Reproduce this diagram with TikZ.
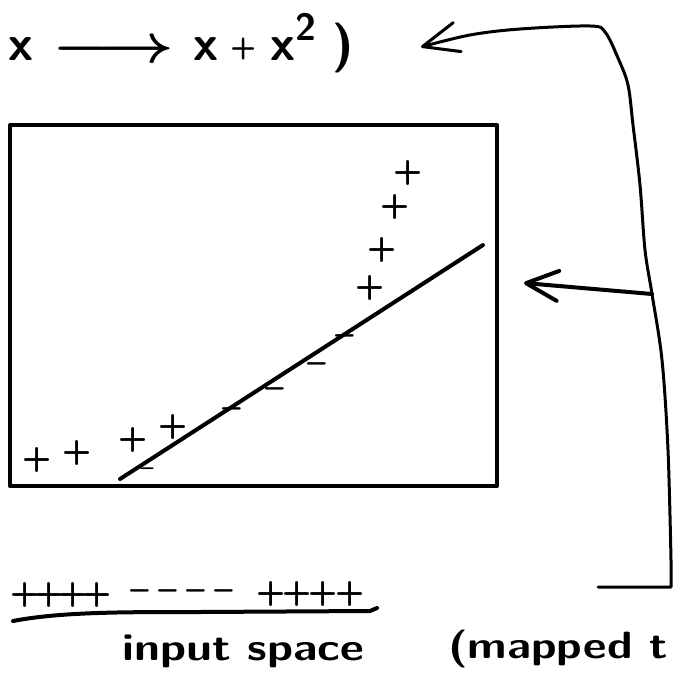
\documentclass[tikz,border=0pt]{standalone}
\usetikzlibrary{arrows.meta}
\tikzset{
  pen/.style={line width=3pt, line cap=round, line join=round},
  thickpen/.style={line width=4pt, line cap=round, line join=round},
  sign/.style={inner sep=0pt, font=\fontsize{34}{34}\selectfont\sffamily\bfseries},
  handtext/.style={inner sep=0pt, anchor=base west, font=\fontsize{38}{40}\selectfont\sffamily\bfseries},
  bigtip/.style={-{Straight Barb[length=36pt,width=30pt,round]}},
  midtip/.style={-{Straight Barb[length=32pt,width=30pt,round]}}
}
\begin{document}
\begin{tikzpicture}[x=1pt,y=-1pt]
\useasboundingbox (0,0) rectangle (673,685);
\fill[white] (0,0) rectangle (673,685);
\clip (0,0) rectangle (673,685);

% formula
\node[inner sep=0pt, anchor=base west, font=\fontsize{50}{55}\selectfont\sffamily\bfseries] (formula) at (8,60)
  {x\hspace{19pt}{\fontsize{10}{12}\selectfont\boldmath\raisebox{-2pt}{\scalebox{6.6}[5.5]{$\longrightarrow$}}}\hspace{19pt}x\hspace{12pt}\raisebox{4pt}{\fontsize{30}{30}\selectfont +}\hspace{14pt}x\raisebox{20pt}{\fontsize{38}{38}\selectfont 2}\hspace{16pt})};

% box (feature space)
\node[draw, thickpen, minimum width=487pt, minimum height=361pt, inner sep=0pt] (box) at (253.5,305.5) {};

% separating line
\coordinate (dA) at (120,479);
\coordinate (dB) at (483,245);
\draw[thickpen] (dA) -- (dB);

% plus signs in the box
\foreach \x/\y [count=\i] in {37/460,77/453,133/440,173/427,370/288,382/250,395/207,408/173}
  \node[sign] (bp\i) at (\x,\y) {+};
% minus signs in the box
\node[sign, font=\fontsize{24}{24}\selectfont\sffamily\bfseries] (bm1) at (147,472) {--};
\foreach \x/\y [count=\i from 2] in {232/413,275/393,317/368,345/340}
  \node[sign] (bm\i) at (\x,\y) {--};

% input line
\foreach \x [count=\i] in {25,49,73,97}
  \node[sign] (lp\i) at (\x,595) {+};
\foreach \x [count=\i] in {140,168,196,224}
  \node[sign] (lm\i) at (\x,595) {--};
\foreach \x [count=\i] in {271,297,323,350}
  \node[sign] (lq\i) at (\x,594) {+};
\coordinate (uA) at (13,621);
\coordinate (uB) at (377,608);
\draw[thickpen] (uA) .. controls (60,612) and (120,612) .. (200,612) -- (370,611) -- (uB);

\node[handtext] (input) at (122,660) {\scalebox{1.22}[1]{input space}};
\node[handtext] (mapped) at (448,658) {\scalebox{1.2}[1]{(mapped t}};

% connectors
\coordinate (brS) at (598,587);
\coordinate (brC) at (671,587);
\coordinate (topTip) at (421,47);
\coordinate (midS) at (652,294);
\coordinate (midTip) at (524,283);

\draw[pen, bigtip] (brS) -- (brC) -- plot[smooth, tension=0.55] coordinates
  {(671,560) (668,450) (662,360) (652,294) (645,250) (640,185) (633,125) (628,85) (618,58) (605,32) (590,26) (520,29) (470,35) (topTip)};
\draw[thickpen, midtip] (midS) -- (midTip);
\end{tikzpicture}
\end{document}
